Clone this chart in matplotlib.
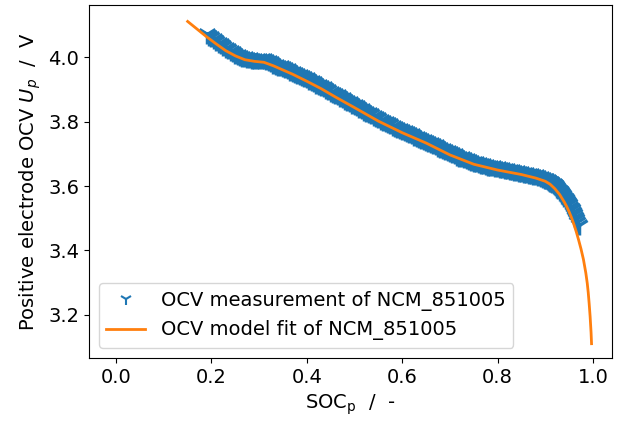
import matplotlib
matplotlib.use("Agg")
import matplotlib.pyplot as plt
import numpy as np

# Measured OCV (SOC_p, U_p)
meas_soc = [0.19, 0.195, 0.20, 0.205, 0.21, 0.215, 0.22, 0.225, 0.23, 0.235, 0.24, 0.245,
            0.25, 0.255, 0.26, 0.265, 0.27, 0.275, 0.28, 0.285, 0.29, 0.295, 0.30, 0.305,
            0.31, 0.315, 0.32, 0.325, 0.33, 0.335, 0.34, 0.345, 0.35, 0.355, 0.36, 0.365,
            0.37, 0.375, 0.38, 0.385, 0.39, 0.395, 0.40, 0.405, 0.41, 0.415, 0.42, 0.425,
            0.43, 0.435, 0.44, 0.445, 0.45, 0.455, 0.46, 0.465, 0.47, 0.475, 0.48, 0.485,
            0.49, 0.495, 0.50, 0.505, 0.51, 0.515, 0.52, 0.525, 0.53, 0.535, 0.54, 0.545,
            0.55, 0.555, 0.56, 0.565, 0.57, 0.575, 0.58, 0.585, 0.59, 0.595, 0.60, 0.605,
            0.61, 0.615, 0.62, 0.625, 0.63, 0.635, 0.64, 0.645, 0.65, 0.655, 0.66, 0.665,
            0.67, 0.675, 0.68, 0.685, 0.69, 0.695, 0.70, 0.705, 0.71, 0.715, 0.72, 0.725,
            0.73, 0.735, 0.74, 0.745, 0.75, 0.755, 0.76, 0.765, 0.77, 0.775, 0.78, 0.785,
            0.79, 0.795, 0.80, 0.805, 0.81, 0.815, 0.82, 0.825, 0.83, 0.835, 0.84, 0.845,
            0.85, 0.855, 0.86, 0.865, 0.87, 0.875, 0.88, 0.885, 0.89, 0.895, 0.90,
            0.9025, 0.905, 0.9075, 0.91, 0.9125, 0.915, 0.9175, 0.92, 0.9225, 0.925,
            0.9275, 0.93, 0.9325, 0.935, 0.9375, 0.94, 0.9425, 0.945, 0.9475, 0.95,
            0.9525, 0.955, 0.9575, 0.96, 0.9625, 0.965, 0.9675, 0.97]
meas_v = [4.074, 4.068, 4.063, 4.057, 4.052, 4.046, 4.041, 4.035, 4.030, 4.025, 4.020, 4.016,
          4.012, 4.008, 4.005, 4.002, 4.000, 3.998, 3.997, 3.996, 3.996, 3.996, 3.996, 3.995,
          3.994, 3.991, 3.988, 3.985, 3.981, 3.978, 3.975, 3.972, 3.969, 3.966, 3.963, 3.959,
          3.956, 3.953, 3.949, 3.946, 3.942, 3.939, 3.935, 3.931, 3.927, 3.923, 3.919, 3.915,
          3.911, 3.907, 3.903, 3.899, 3.894, 3.890, 3.886, 3.882, 3.877, 3.873, 3.869, 3.864,
          3.860, 3.856, 3.852, 3.848, 3.844, 3.839, 3.835, 3.831, 3.827, 3.823, 3.819, 3.815,
          3.811, 3.807, 3.803, 3.799, 3.796, 3.792, 3.788, 3.784, 3.781, 3.777, 3.774, 3.770,
          3.767, 3.764, 3.761, 3.757, 3.754, 3.751, 3.748, 3.744, 3.741, 3.737, 3.734, 3.730,
          3.727, 3.723, 3.720, 3.716, 3.713, 3.709, 3.706, 3.702, 3.699, 3.695, 3.692, 3.689,
          3.686, 3.683, 3.681, 3.678, 3.676, 3.674, 3.672, 3.670, 3.668, 3.666, 3.664, 3.662,
          3.661, 3.659, 3.658, 3.656, 3.655, 3.653, 3.652, 3.650, 3.649, 3.647, 3.646, 3.645,
          3.644, 3.642, 3.641, 3.639, 3.638, 3.636, 3.634, 3.632, 3.629, 3.626, 3.623,
          3.621, 3.619, 3.617, 3.614, 3.612, 3.609, 3.606, 3.603, 3.599, 3.595,
          3.591, 3.586, 3.582, 3.577, 3.572, 3.566, 3.561, 3.555, 3.549, 3.543,
          3.536, 3.529, 3.521, 3.513, 3.505, 3.497, 3.489, 3.480]

# Model fit
fit_soc = [0.15, 0.17, 0.19, 0.21, 0.23, 0.25, 0.27, 0.29, 0.31, 0.33, 0.35, 0.37,
           0.40, 0.43, 0.46, 0.50, 0.55, 0.60, 0.65, 0.70, 0.75, 0.80, 0.85, 0.88,
           0.90, 0.91, 0.92, 0.93, 0.94, 0.945, 0.95, 0.955, 0.96, 0.965, 0.97, 0.975,
           0.98, 0.985, 0.988, 0.99, 0.992, 0.994, 0.996, 0.997]
fit_v = [4.112, 4.088, 4.064, 4.042, 4.021, 4.005, 3.993, 3.988, 3.985, 3.974, 3.961, 3.948,
         3.926, 3.903, 3.877, 3.844, 3.802, 3.766, 3.734, 3.697, 3.668, 3.650, 3.636, 3.625,
         3.615, 3.606, 3.592, 3.574, 3.550, 3.536, 3.520, 3.502, 3.481, 3.458, 3.432, 3.404,
         3.372, 3.330, 3.298, 3.270, 3.235, 3.195, 3.145, 3.110]

plt.rcParams['font.family'] = ['DejaVu Sans']
plt.rcParams['font.size'] = 14

fig = plt.figure(figsize=(6.22, 4.21), dpi=100)
ax = fig.add_axes([0.143, 0.150, 0.841, 0.838])

ax.plot(meas_soc, meas_v, linestyle='none', marker='1', markersize=15,
        markeredgewidth=2.5, color='#1f77b4', label='OCV measurement of NCM_851005')
ax.plot(fit_soc, fit_v, color='#ff7f0e', linewidth=2,
        label='OCV model fit of NCM_851005')

ax.set_xlim(-0.057, 1.04)
ax.set_ylim(3.066, 4.163)
ax.set_xticks([0.0, 0.2, 0.4, 0.6, 0.8, 1.0])
ax.set_yticks([3.2, 3.4, 3.6, 3.8, 4.0])

ax.set_xlabel(r'SOC$_\mathrm{p}$  /  -')
ax.set_ylabel(r'Positive electrode OCV $U_p$  /  V')
leg = ax.legend(loc='lower left')
for h in leg.legend_handles[:1]:
    h.set_markeredgewidth(1.5)
    h.set_markersize(9)

fig.savefig('out.png', dpi=100)
